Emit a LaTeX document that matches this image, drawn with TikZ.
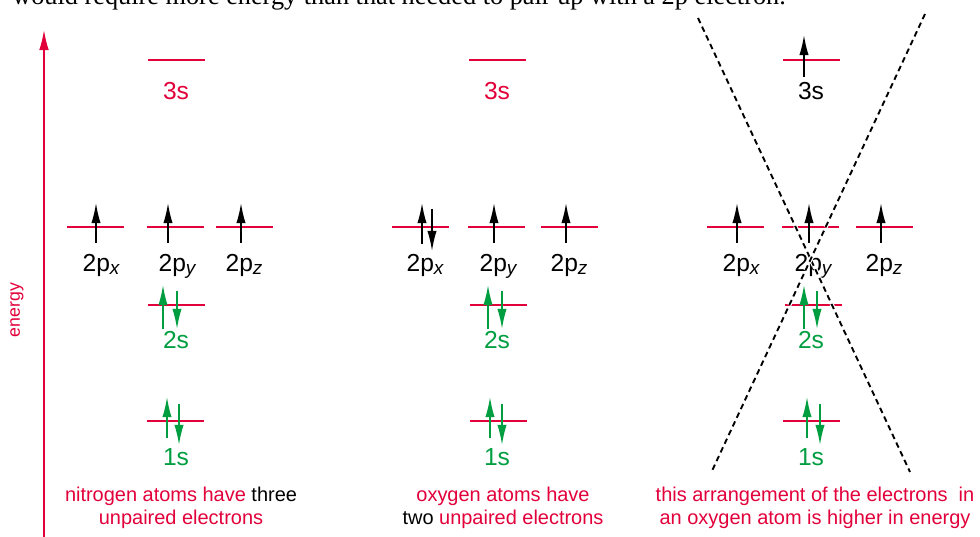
\documentclass[tikz,border=0pt]{standalone}
\usepackage{fontspec}
\setmainfont{Liberation Sans}
\newfontfamily\bookfont{Liberation Serif}
\usepackage{tikz}
\usetikzlibrary{arrows.meta,positioning,calc}
\definecolor{levelred}{RGB}{226,0,58}
\definecolor{spingreen}{RGB}{0,158,64}
\tikzset{
  levelline/.style={levelred, line width=1.7pt},
  spin/.style={-{Latex[length=5mm,width=2.3mm]}, line width=1.1pt},
  energyline/.style={levelred, line width=1.1pt, -{Latex[length=5mm,width=2.4mm]}},
  lbl/.style={inner sep=0pt, anchor=base, font=\fontsize{17.5}{20}\selectfont},
  capt/.style={align=center, inner sep=0pt, text=levelred, font=\fontsize{14.2}{16.4}\selectfont},
  xline/.style={line width=1.35pt, dash pattern=on 4pt off 2.8pt,
    preaction={draw=white, line width=3pt, dash pattern=on 4pt off 2.8pt}}
}
\newcommand{\orb}[1]{2p\raisebox{-2pt}{\fontsize{13.5}{14}\selectfont\itshape #1}}

\begin{document}
\begin{tikzpicture}[x=0.025cm, y=-0.025cm]
  \useasboundingbox (0,0) rectangle (980,537);

  % text cut off at the top
  \node[anchor=base west, inner sep=0pt, font=\bookfont\fontsize{18.7}{22}\selectfont] (topline) at (12,5)
    {would require more energy than that needed to pair up with a 2p electron.};

  % energy axis
  \coordinate (ebot) at (44,537);
  \coordinate (etop) at (44,30);
  \draw[energyline] (ebot) -- (etop);
  \node[rotate=90, inner sep=0pt, text=levelred, font=\fontsize{12.6}{14}\selectfont] (energy) at (17,310) {energy};

  % orbital levels
  \foreach \nm/\cx/\cy in {n3s/176/60, npx/95.5/227, npy/175/227, npz/244.5/227, n2s/176/305, n1s/175/421,
                           o3s/497.5/60, opx/420/227, opy/496.5/227, opz/569.5/227, o2s/498.5/305, o1s/498/421,
                           x3s/811.5/60, xpx/735.5/227, xpy/810.5/227, xpz/884.5/227, x2s/813/305, x1s/811/421}
    \coordinate (\nm) at (\cx,\cy);
  \foreach \nm in {n3s,npx,npy,npz,n2s,n1s,o3s,opx,opy,opz,o2s,o1s,x3s,xpx,xpy,xpz,x2s,x1s}
    \draw[levelline] ($(\nm)+(-28.5,0)$) -- ($(\nm)+(28.5,0)$);

  % electrons
  \foreach \ex/\ya/\yb/\col in {96/243/203/black, 168/243/203/black, 241/243/203/black,
                                422/244/203/black, 432/209/251/black, 494/243/203/black, 566/243/203/black,
                                804/77/35/black, 737/243/203/black, 809/243/203/black, 881/243/203/black,
                                163/329/285/spingreen, 177/291/329/spingreen, 167/438/397/spingreen, 179/404/445/spingreen,
                                488/329/285/spingreen, 502/291/329/spingreen, 490/438/397/spingreen, 502/404/445/spingreen,
                                804/329/285/spingreen, 817/291/329/spingreen, 807/438/397/spingreen, 820/404/445/spingreen}
    \draw[spin, \col] (\ex,\ya) -- (\ex,\yb);

  % labels
  \node[lbl, text=levelred] (l3sN) at (176,100) {3s};
  \node[lbl, text=levelred] (l3sO) at (497,100) {3s};
  \node[lbl] (l3sX) at (811,100) {3s};
  \node[lbl] (lpxN) at (101,272) {\orb{x}};
  \node[lbl] (lpyN) at (177,272) {\orb{y}};
  \node[lbl] (lpzN) at (244,272) {\orb{z}};
  \node[lbl] (lpxO) at (425,272) {\orb{x}};
  \node[lbl] (lpyO) at (498,272) {\orb{y}};
  \node[lbl] (lpzO) at (569,272) {\orb{z}};
  \node[lbl] (lpxX) at (741,272) {\orb{x}};
  \node[lbl] (lpyX) at (813,272) {\orb{y}};
  \node[lbl] (lpzX) at (884,272) {\orb{z}};
  \node[lbl, text=spingreen] (l2sN) at (176,349) {2s};
  \node[lbl, text=spingreen] (l2sO) at (497,349) {2s};
  \node[lbl, text=spingreen] (l2sX) at (811,349) {2s};
  \node[lbl, text=spingreen] (l1sN) at (176,465) {1s};
  \node[lbl, text=spingreen] (l1sO) at (497,465) {1s};
  \node[lbl, text=spingreen] (l1sX) at (811,465) {1s};

  % crossing out
  \coordinate (xa1) at (698,18);
  \coordinate (xa2) at (910,472);
  \coordinate (xb1) at (925,14);
  \coordinate (xb2) at (711,473);
  \draw[xline] (xa1) -- (xa2);
  \draw[xline] (xb1) -- (xb2);

  % captions
  \node[capt] (capN) at (181,508) {nitrogen atoms have \textcolor{black}{three}\\unpaired electrons};
  \node[capt] (capO) at (503,508) {oxygen atoms have\\\textcolor{black}{two} unpaired electrons};
  \node[capt] (capX) at (815,508) {this arrangement of the electrons~ in\\an oxygen atom is higher in energy};
\end{tikzpicture}
\end{document}
